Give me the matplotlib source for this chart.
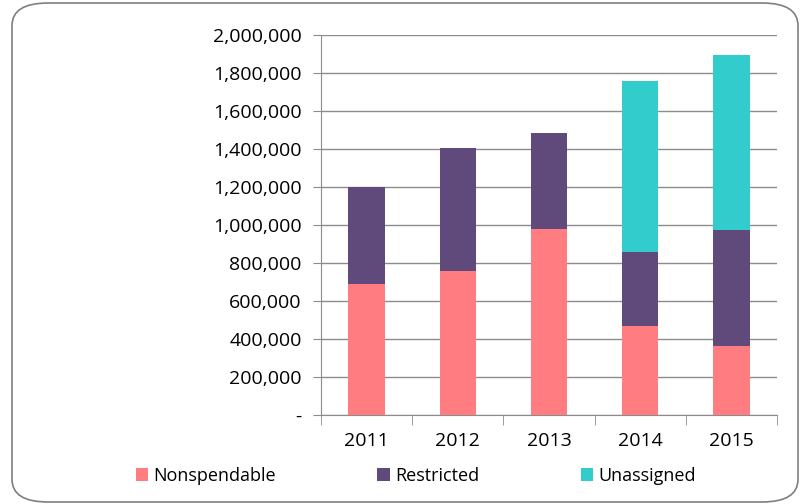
import matplotlib.pyplot as plt
from matplotlib.patches import FancyBboxPatch
from matplotlib.ticker import FuncFormatter

years = ['2011', '2012', '2013', '2014', '2015']
nonspendable = [689000, 758000, 979000, 466000, 363000]
restricted = [511000, 647000, 505000, 392000, 611000]
unassigned = [0, 0, 0, 898000, 921000]

c_non = '#FF7C80'
c_res = '#604A7B'
c_una = '#33CCCC'

plt.rcParams['font.family'] = ['Open Sans', 'DejaVu Sans']

fig = plt.figure(figsize=(8.01, 5.04), dpi=100)
W, H = 801, 504

# rounded chart-area border
frame = FancyBboxPatch((12 / W, 2 / H), 786 / W, 499 / H,
                       boxstyle='round,pad=0,rounding_size=0.045',
                       transform=fig.transFigure, fill=False,
                       edgecolor='#7f7f7f', linewidth=1.2)
fig.patches.append(frame)

ax = fig.add_axes([321 / W, 1 - 415 / H, (777 - 321) / W, (415 - 35) / H])

x = range(len(years))
bottom2 = [a + b for a, b in zip(nonspendable, restricted)]
w = 0.4
ax.bar(x, nonspendable, width=w, color=c_non, label='Nonspendable', zorder=3)
ax.bar(x, restricted, width=w, bottom=nonspendable, color=c_res, label='Restricted', zorder=3)
ax.bar(x, unassigned, width=w, bottom=bottom2, color=c_una, label='Unassigned', zorder=3)

ax.set_xlim(-0.5, len(years) - 0.5)
ax.set_ylim(0, 2000000)
ax.set_yticks(range(0, 2000001, 200000))
ax.yaxis.set_major_formatter(FuncFormatter(lambda v, p: '-' if v == 0 else f'{int(v):,}'))
ax.yaxis.grid(True, color='#8c8c8c', linewidth=1)
ax.set_axisbelow(True)

ax.set_xticks(list(x))
ax.set_xticklabels(years)
ax.set_xticks([i - 0.5 for i in range(len(years) + 1)], minor=True)
ax.tick_params(axis='x', which='major', length=0, pad=12, labelsize=14)
ax.tick_params(axis='x', which='minor', length=7, color='#8c8c8c')
ax.tick_params(axis='y', length=6, color='#8c8c8c', pad=8, labelsize=14)

for s in ['top', 'right']:
    ax.spines[s].set_visible(False)
ax.spines['left'].set_color('#8c8c8c')
ax.spines['bottom'].set_color('#8c8c8c')

fig.legend(loc='center', bbox_to_anchor=(416 / W, 1 - 476 / H), ncol=3, frameon=False,
           fontsize=13, handlelength=0.7, handleheight=0.7, columnspacing=5.6,
           handletextpad=0.3)

fig.savefig('out.png', dpi=100)
